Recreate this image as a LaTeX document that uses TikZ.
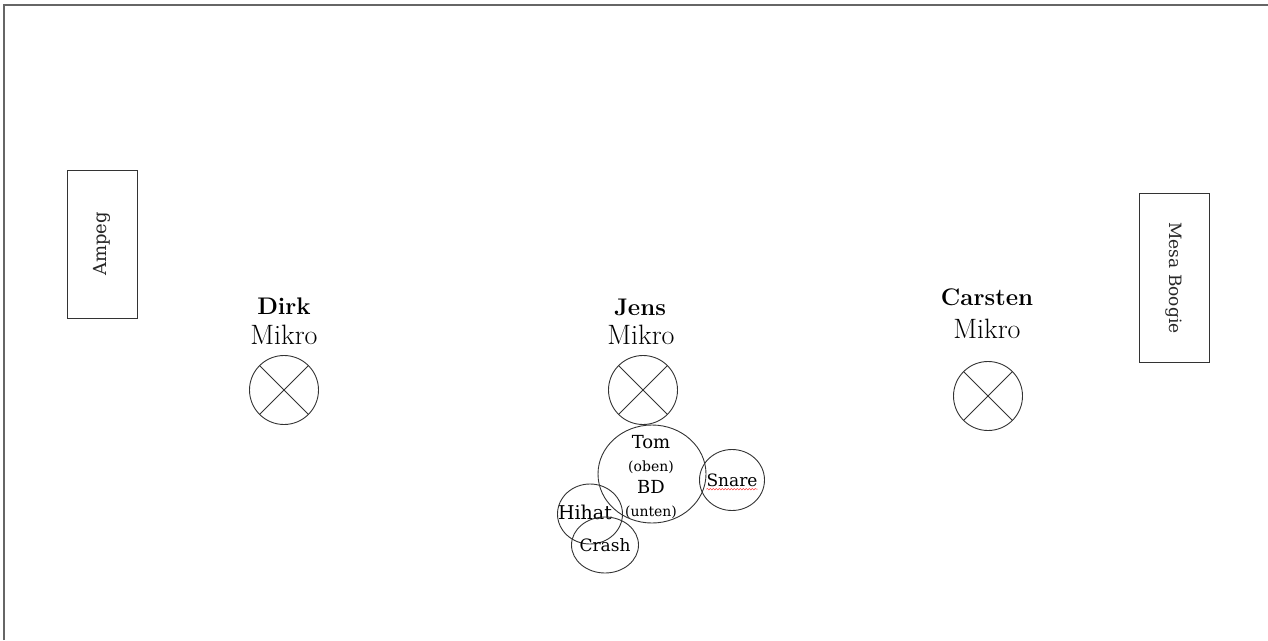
\documentclass[tikz,border=0pt]{standalone}
\usepackage{fontspec}
\newfontfamily\drumfont{DejaVu Serif}
\usetikzlibrary{shapes.geometric,decorations.pathmorphing}

\begin{document}
\begin{tikzpicture}[x=1pt, y=-1pt,
  mic/.style={circle, draw=black!80, line width=0.9pt, minimum size=69pt, inner sep=0pt,
    path picture={\draw[black!80, line width=0.9pt] (path picture bounding box.north west) -- (path picture bounding box.south east)
      (path picture bounding box.north east) -- (path picture bounding box.south west);}},
  player/.style={font=\fontsize{24}{28}\selectfont\bfseries, inner sep=0pt},
  mikro/.style={font=\fontsize{28}{32}\selectfont, inner sep=0pt},
  amp/.style={draw=black!80, line width=0.9pt, minimum width=70pt, inner sep=0pt},
  drum/.style={ellipse, draw=black!80, line width=0.9pt, inner sep=0pt},
  drumtext/.style={font=\drumfont\fontsize{17}{20}\selectfont, inner sep=0pt, align=center}]

\useasboundingbox (0,0) rectangle (1268,640);

% Frame (top and left edge)
\draw[black!60, line width=2pt] (4,640) -- (4,5) -- (1268,5);

% ============ AMPS ============
\node[amp, minimum height=148pt] (ampeg) at (102,244) {};
\node[drumtext, rotate=90, black!85, font=\drumfont\fontsize{18}{20}\selectfont] (ampegtxt) at (ampeg.center) {Ampeg};

\node[amp, minimum height=169pt] (mesa) at (1174,278) {};
\node[drumtext, rotate=-90, black!85] (mesatxt) at (mesa.center) {Mesa Boogie};

% ============ PLAYERS ============
% Dirk
\node[player] (dirk) at (284,306) {Dirk};
\node[mikro] (dirkmikro) at (284,335) {Mikro};
\node[mic] (dirkmic) at (284,390) {};

% Jens
\node[player] (jens) at (640,307) {Jens};
\node[mikro] (jensmikro) at (641,335) {Mikro};
\node[mic] (jensmic) at (643,390) {};

% Carsten
\node[player] (carsten) at (987,297) {Carsten};
\node[mikro] (carstenmikro) at (987,329) {Mikro};
\node[mic] (carstenmic) at (988,396) {};

% ============ DRUMS ============
\node[drum, minimum width=108pt, minimum height=98pt] (bd) at (652,474) {};
\node[drumtext, font=\drumfont\fontsize{18}{22.7}\selectfont] (bdtxt) at (651,477)
  {Tom\\{\fontsize{14}{16}\selectfont(oben)}\\BD\\{\fontsize{14}{16}\selectfont(unten)}};

\node[drum, minimum width=65pt, minimum height=61pt] (snare) at (732,480) {};
\node[drumtext] (snaretxt) at (732,480) {Snare};
\draw[red!80, decorate, decoration={snake, amplitude=0.8pt, segment length=3pt}]
  ([yshift=-3pt]snaretxt.base west) -- ([yshift=-3pt]snaretxt.base east);

\node[drum, minimum width=65pt, minimum height=60pt] (hihat) at (590,514) {};
\node[drumtext, font=\drumfont\fontsize{19}{20}\selectfont] (hihattxt) at (585,512) {Hihat};

\node[drum, minimum width=67pt, minimum height=56pt] (crash) at (605,545) {};
\node[drumtext] (crashtxt) at (605,545) {Crash};

\end{tikzpicture}
\end{document}
